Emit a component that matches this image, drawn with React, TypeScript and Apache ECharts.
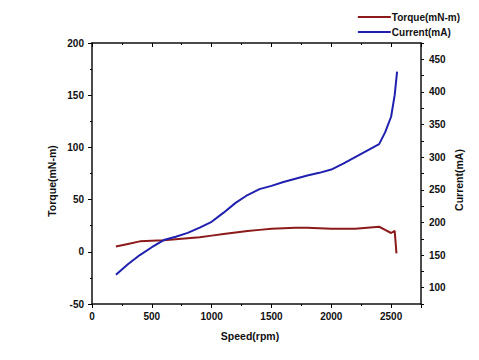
import React, { useEffect, useRef } from "react";
import * as echarts from "echarts";

const torqueSpeed = [200, 300, 400, 500, 600, 700, 800, 900, 1000, 1100, 1200, 1300, 1400, 1500, 1600, 1700, 1800, 1900, 2000, 2100, 2200, 2300, 2400, 2450, 2500, 2530, 2545];
const torqueValues = [5, 7.5, 10, 10.5, 11, 12, 13, 14, 15.5, 17, 18.5, 20, 21, 22, 22.5, 23, 23, 22.5, 22, 22, 22, 23, 24, 21, 18, 20, -1.5];

const currentSpeed = [200, 300, 400, 500, 600, 700, 800, 900, 1000, 1100, 1200, 1300, 1400, 1500, 1600, 1700, 1800, 1900, 2000, 2100, 2200, 2300, 2400, 2450, 2500, 2530, 2550];
const currentValues = [120, 136, 150, 162, 173, 178, 184, 192, 201, 215, 230, 242, 251, 256, 262, 267, 272, 276, 281, 290, 300, 310, 320, 338, 362, 395, 431];

const speedLabels = [0, 500, 1000, 1500, 2000, 2500];

const font = "Liberation Sans, Arial, sans-serif";

export default function App() {
  const ref = useRef<HTMLDivElement>(null);
  useEffect(() => {
    if (!ref.current) return;
    const chart = echarts.init(ref.current, null, { renderer: "svg" });
    const labelStyle = { color: "#111", fontWeight: "bold" as const, fontSize: 10, fontFamily: font };
    const lineStyle = { color: "#000", width: 1 };
    const axisLine = { show: true, onZero: false, lineStyle: { color: "#111", width: 1.5 } };
    chart.setOption({
      animation: false,
      backgroundColor: "#ffffff",
      grid: { left: 92, right: 58, top: 43, bottom: 56 },
      legend: {
        orient: "vertical",
        right: 14,
        top: 7,
        itemGap: 5,
        itemWidth: 33,
        itemHeight: 2,
        icon: "rect",
        textStyle: { ...labelStyle, padding: [0, 0, 0, -4] },
        data: ["Torque(mN-m)", "Current(mA)"],
      },
      xAxis: [
        {
          type: "value",
          min: 0,
          max: 2750,
          interval: 500,
          position: "bottom",
          axisLine,
          axisTick: { show: true, inside: false, length: 4, lineStyle },
          minorTick: { show: true, splitNumber: 2, length: 2, lineStyle },
          splitLine: { show: false },
          axisLabel: {
            ...labelStyle,
            margin: 7,
            showMaxLabel: false,
            formatter: (v: number) => (speedLabels.includes(v) ? String(v) : ""),
          },
        },
        {
          type: "value",
          min: 0,
          max: 2750,
          interval: 500,
          position: "top",
          axisLine,
          axisTick: { show: true, inside: true, length: 4, lineStyle },
          minorTick: { show: true, splitNumber: 2, length: 2, lineStyle },
          splitLine: { show: false },
          axisLabel: { show: false },
        },
      ],
      yAxis: [
        {
          type: "value",
          min: -50,
          max: 200,
          interval: 50,
          position: "left",
          axisLine,
          axisTick: { show: true, inside: false, length: 4, lineStyle },
          minorTick: { show: true, splitNumber: 2, length: 2, lineStyle },
          splitLine: { show: false },
          axisLabel: { ...labelStyle, margin: 8 },
        },
        {
          type: "value",
          min: 75,
          max: 475,
          interval: 25,
          position: "right",
          axisLine,
          axisTick: { show: true, inside: false, length: 3, lineStyle },
          splitLine: { show: false },
          axisLabel: {
            ...labelStyle,
            margin: 8,
            formatter: (v: number) => (v % 50 === 0 ? String(v) : ""),
          },
        },
      ],
      graphic: [
        {
          type: "text",
          x: 52,
          y: 181,
          rotation: Math.PI / 2,
          style: { text: "Torque(mN-m)", fill: "#111", font: `bold 10.5px ${font}`, align: "center", verticalAlign: "middle" },
        },
        {
          type: "text",
          x: 459,
          y: 180,
          rotation: Math.PI / 2,
          style: { text: "Current(mA)", fill: "#111", font: `bold 10.5px ${font}`, align: "center", verticalAlign: "middle" },
        },
        {
          type: "text",
          x: 250,
          y: 336,
          style: { text: "Speed(rpm)", fill: "#111", font: `bold 10.5px ${font}`, align: "center", verticalAlign: "middle" },
        },
      ],
      series: [
        {
          name: "Torque(mN-m)",
          type: "line",
          xAxisIndex: 0,
          yAxisIndex: 0,
          showSymbol: false,
          color: "#8b1a1a",
          lineStyle: { color: "#8b1a1a", width: 2 },
          data: torqueSpeed.map((s, i) => [s, torqueValues[i]]),
        },
        {
          name: "Current(mA)",
          type: "line",
          xAxisIndex: 0,
          yAxisIndex: 1,
          showSymbol: false,
          color: "#2020b0",
          lineStyle: { color: "#2020b0", width: 2 },
          data: currentSpeed.map((s, i) => [s, currentValues[i]]),
        },
      ],
    });
    return () => chart.dispose();
  }, []);
  return <div ref={ref} style={{ position: "fixed", left: 0, top: 0, width: 479, height: 360 }} />;
}
